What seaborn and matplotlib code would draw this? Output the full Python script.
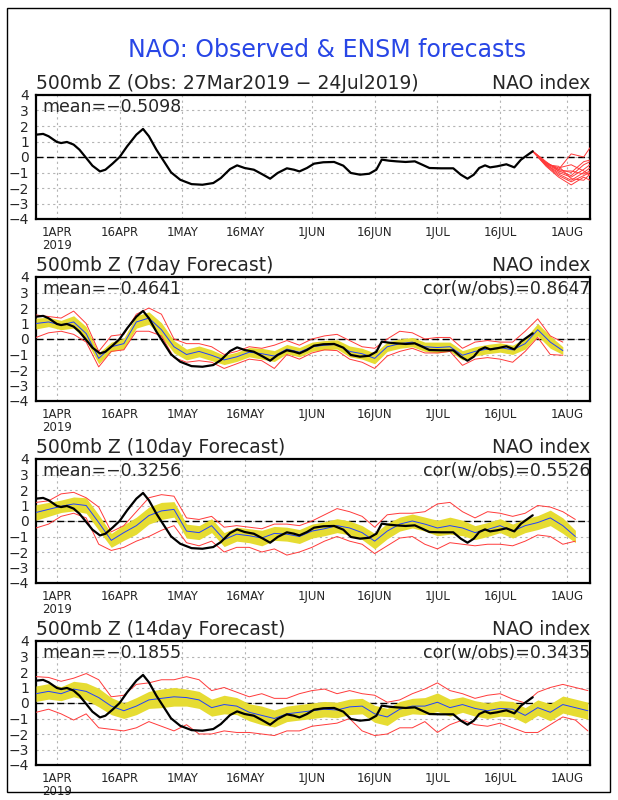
import numpy as np
import pandas as pd
import matplotlib
matplotlib.use("Agg")
import matplotlib.pyplot as plt
import seaborn as sns
from matplotlib.patches import Rectangle

sns.set_style("white")
plt.rcParams['font.family'] = ['DejaVu Sans']
plt.rcParams['axes.unicode_minus'] = True

#==========================================data===========================================#
# days counted from 1 APR 2019
obs_day = [-5, -3.3, -2, 0, 1, 2.4, 4, 5.4, 6.7, 8.5,
           10.3, 11.6, 13.3, 15, 16.8, 19, 20.6, 22, 23.8, 25.6,
           27.3, 29.5, 32.2, 34.8, 37.4, 39.2, 41.4, 43.1, 44.9, 47.1,
           49.3, 51, 52.8, 55, 56.7, 58, 59.8, 61.5, 63.7, 66.3,
           68.5, 70.3, 72.5, 74.7, 76.4, 77.7, 79.5, 81.2, 83.4, 85.6,
           87.4, 89.1, 91.8, 94.8, 96.6, 98.2, 99.7, 101, 102.4, 103.6,
           105.3, 107.5, 109.4, 111, 113.8]
obs_val = [1.44, 1.49, 1.34, 0.97, 0.9, 0.97, 0.8, 0.47, 0.04, -0.56,
           -0.93, -0.82, -0.43, 0, 0.69, 1.44, 1.81, 1.34, 0.47, -0.28,
           -0.99, -1.47, -1.75, -1.79, -1.68, -1.36, -0.78, -0.54, -0.71, -0.82,
           -1.14, -1.4, -1.03, -0.73, -0.82, -0.93, -0.71, -0.43, -0.34, -0.32,
           -0.56, -1.03, -1.14, -1.08, -0.82, -0.17, -0.24, -0.28, -0.32, -0.28,
           -0.5, -0.71, -0.73, -0.73, -1.14, -1.4, -1.14, -0.71, -0.54, -0.67,
           -0.6, -0.47, -0.67, -0.17, 0.37]

# ensemble members issued 24 JUL (top panel)
ens_day = [113.8, 117, 120, 123, 126, 127.5]
ens_members = [
    [0.37, -0.4, -0.8, 0.2, 0.0, 0.6],
    [0.37, -0.3, -0.9, -1.2, -0.5, -0.3],
    [0.37, -0.5, -1.1, -1.5, -1.0, -0.7],
    [0.37, -0.6, -1.3, -1.8, -1.3, -1.5],
    [0.37, -0.4, -0.7, -0.5, -0.9, -1.2],
    [0.37, -0.5, -1.0, -1.3, -0.8, -0.5],
    [0.37, -0.45, -0.9, -0.9, -1.1, -0.9],
    [0.37, -0.55, -1.2, -1.6, -1.2, -1.0],
    [0.37, -0.35, -0.8, -1.0, -0.3, -0.2],
    [0.37, -0.5, -0.6, -1.4, -1.5, -1.1],
]

fc_day = list(range(-5, 128, 3))

fc7_mean = [1.0, 1.1, 0.9, 1.1, 0.35, -1.25, -0.5, -0.3, 1.1, 1.35,
            0.6, -0.5, -1.0, -0.8, -1.05, -1.35, -1.15, -0.85, -0.95, -1.1,
            -0.65, -0.85, -0.5, -0.4, -0.35, -0.8, -0.95, -1.25, -0.5, -0.3,
            -0.2, -0.5, -0.55, -0.5, -1.05, -0.8, -0.65, -0.55, -0.7, -0.3,
            0.6, -0.2, -0.75]
fc7_band = [0.35, 0.3, 0.3, 0.4, 0.45, 0.35, 0.3, 0.35, 0.4, 0.4,
            0.45, 0.4, 0.35, 0.35, 0.35, 0.3, 0.3, 0.3, 0.35, 0.35,
            0.3, 0.3, 0.3, 0.3, 0.3, 0.35, 0.35, 0.35, 0.3, 0.3,
            0.3, 0.3, 0.35, 0.3, 0.3, 0.3, 0.3, 0.3, 0.3, 0.35,
            0.4, 0.4, 0.25]
fc7_hi = [1.55, 1.45, 1.35, 1.8, 1.0, -0.8, 0.2, 0.3, 1.6, 2.0,
          1.6, 0.0, -0.3, -0.3, -0.5, -1.0, -0.8, -0.5, -0.6, -0.4,
          -0.1, -0.4, 0.0, 0.2, 0.3, -0.1, -0.5, -0.6, 0.0, 0.5,
          0.4, 0.0, 0.1, 0.1, -0.6, -0.2, -0.1, -0.2, -0.2, 0.5,
          1.3, 0.2, -0.2]
fc7_lo = [0.1, 0.4, 0.5, 0.3, -0.2, -1.8, -0.8, -0.7, 0.5, 0.5,
          0.2, -1.2, -1.5, -1.4, -1.5, -1.9, -1.6, -1.3, -1.4, -1.9,
          -1.0, -1.3, -0.9, -0.7, -0.75, -1.3, -1.5, -1.9, -1.1, -0.8,
          -0.6, -0.9, -0.9, -0.8, -1.7, -1.3, -1.2, -1.3, -1.5, -0.8,
          0.1, -1.0, -1.05]

fc10_mean = [0.55, 0.75, 0.95, 1.1, 1.0, -0.1, -1.25, -0.75, -0.3, 0.35,
             0.65, 0.75, -0.65, -0.75, -0.3, -1.2, -0.85, -0.95, -1.1, -0.8,
             -0.85, -1.0, -0.65, -0.5, -0.3, -0.45, -0.75, -1.3, -0.65, -0.2,
             0.0, -0.2, -0.45, -0.3, -0.45, -0.75, -0.55, -0.3, -0.65, -0.3,
             -0.1, 0.2, -0.3, -1.0]
fc10_band = [0.5, 0.45, 0.4, 0.45, 0.5, 0.5, 0.45, 0.5, 0.55, 0.55,
             0.55, 0.5, 0.45, 0.45, 0.45, 0.45, 0.45, 0.45, 0.5, 0.45,
             0.45, 0.45, 0.45, 0.45, 0.45, 0.45, 0.45, 0.5, 0.5, 0.45,
             0.45, 0.45, 0.5, 0.55, 0.5, 0.45, 0.45, 0.45, 0.45, 0.45,
             0.45, 0.5, 0.5, 0.4]
fc10_hi = [1.2, 1.3, 1.75, 1.85, 1.5, 0.9, -0.7, -0.3, 0.6, 1.5,
           1.7, 1.6, 0.2, 0.1, 0.3, -0.4, -0.3, -0.4, -0.5, -0.2,
           -0.2, -0.3, 0.0, 0.4, 0.8, 0.6, 0.3, -0.4, 0.4, 0.5,
           0.5, 0.6, 1.1, 1.2, 0.6, 0.2, 0.6, 0.5, 0.3, 0.5,
           1.0, 0.9, 0.6, 0.1]
fc10_lo = [-0.45, -0.2, 0.3, 0.5, 0.2, -1.5, -1.9, -1.7, -1.3, -1.0,
           -0.6, -0.3, -1.4, -1.6, -1.3, -2.0, -1.7, -1.7, -2.0, -1.8,
           -2.2, -2.0, -1.7, -1.3, -1.0, -1.3, -1.5, -2.1, -1.6, -1.1,
           -1.0, -1.5, -1.8, -1.4, -1.5, -1.6, -1.5, -1.5, -1.6, -1.3,
           -0.9, -1.0, -1.5, -1.3]

fc14_mean = [0.6, 0.75, 0.6, 0.9, 0.75, 0.35, -0.2, -0.5, -0.2, 0.2,
             0.3, 0.4, 0.35, 0.2, -0.3, -0.1, -0.2, -0.6, -0.8, -1.0,
             -0.7, -0.6, -0.5, -0.4, -0.45, -0.25, -0.2, -0.7, -0.9, -0.4,
             -0.2, -0.2, 0.05, -0.3, -0.1, -0.35, -0.5, -0.35, -0.4, -0.8,
             -0.3, -0.6, -0.1, -0.3, -0.5]
fc14_band = [0.5, 0.5, 0.45, 0.5, 0.55, 0.6, 0.55, 0.5, 0.55, 0.55,
             0.6, 0.6, 0.55, 0.55, 0.55, 0.6, 0.55, 0.55, 0.6, 0.55,
             0.5, 0.5, 0.5, 0.5, 0.5, 0.5, 0.5, 0.55, 0.55, 0.5,
             0.5, 0.55, 0.6, 0.55, 0.5, 0.5, 0.5, 0.5, 0.5, 0.5,
             0.5, 0.55, 0.55, 0.55, 0.55]
fc14_hi = [1.7, 1.65, 1.4, 1.6, 1.9, 1.5, 0.4, 0.5, 1.2, 1.3,
           1.5, 1.5, 1.7, 1.5, 0.8, 1.0, 0.7, 0.4, 0.6, 0.3,
           0.3, 0.6, 0.8, 0.9, 0.6, 0.8, 0.6, 0.5, 0.05, 0.2,
           0.6, 0.9, 1.3, 0.8, 0.6, 0.3, 0.5, 0.6, 0.25, 0.0,
           0.7, 1.0, 1.2, 1.0, 0.8]
fc14_lo = [-0.6, -0.4, -0.7, -1.1, -0.7, -1.6, -1.7, -1.8, -1.6, -1.2,
           -1.5, -1.8, -1.4, -2.0, -2.0, -1.8, -1.9, -1.9, -2.0, -2.1,
           -1.8, -1.8, -1.5, -1.4, -1.3, -1.0, -1.8, -2.1, -2.0, -1.6,
           -1.6, -1.2, -1.9, -1.4, -1.1, -1.4, -1.5, -1.3, -1.6, -1.9,
           -1.9, -1.4, -0.9, -1.1, -1.8]

panel_titles = ['500mb Z (Obs: 27Mar2019 \u2212 24Jul2019)',
                '500mb Z (7day Forecast)',
                '500mb Z (10day Forecast)',
                '500mb Z (14day Forecast)']
mean_text = ['mean=\u22120.5098', 'mean=\u22120.4641', 'mean=\u22120.3256', 'mean=\u22120.1855']
cor_text = [None, 'cor(w/obs)=0.8647', 'cor(w/obs)=0.5526', 'cor(w/obs)=0.3435']

tick_dates = ['2019-04-01', '2019-04-16', '2019-05-01', '2019-05-16', '2019-06-01',
              '2019-06-16', '2019-07-01', '2019-07-16', '2019-08-01']
tick_labels = ['1APR\n2019', '16APR', '1MAY', '16MAY', '1JUN', '16JUN', '1JUL', '16JUL', '1AUG']

base = pd.Timestamp('2019-04-01')


def to_dates(days):
    return base + pd.to_timedelta(np.asarray(days, dtype=float), unit='D')


yellow = '#e6dc32'
red = '#ff3a3a'
blue = '#2040ff'

#==========================================plot===========================================#
W, H = 618, 800
fig = plt.figure(figsize=(W / 100, H / 100), dpi=100)
fig.add_artist(Rectangle((7 / W, 8 / H), 603 / W, 784 / H, transform=fig.transFigure,
                         fill=False, lw=1, ec='black'))
fig.text(0.529, 1 - 50 / H, 'NAO: Observed & ENSM forecasts', color='#2846e6',
         fontsize=17, ha='center', va='center')

tops = [95, 277, 459, 641]
axh = 124
axes = []
for t in tops:
    ax = fig.add_axes([36 / W, 1 - (t + axh) / H, 554 / W, axh / H])
    axes.append(ax)

obs_x = to_dates(obs_day)
forecasts = [None,
             (fc7_mean, fc7_band, fc7_hi, fc7_lo),
             (fc10_mean, fc10_band, fc10_hi, fc10_lo),
             (fc14_mean, fc14_band, fc14_hi, fc14_lo)]

for i, ax in enumerate(axes):
    ax.grid(True, color='#b4b4b4', linestyle=(0, (2, 3)), linewidth=0.8)
    ax.axhline(0, color='black', ls=(0, (5, 2.5)), lw=1, zorder=2)

    if forecasts[i] is None:
        ens = pd.DataFrame({
            'day': np.tile(ens_day, len(ens_members)),
            'val': np.concatenate(ens_members),
            'member': np.repeat(np.arange(len(ens_members)), len(ens_day)),
        })
        ens['date'] = to_dates(ens['day'])
        sns.lineplot(data=ens, x='date', y='val', units='member', estimator=None,
                     ax=ax, color=red, lw=0.7, zorder=3)
    else:
        fm, fb, fh, fl = forecasts[i]
        n = len(fm)
        x = to_dates(fc_day[:n])
        fm = np.array(fm)
        fb = np.array(fb)
        ax.fill_between(x, fm - fb, fm + fb, color=yellow, lw=0, zorder=3)
        sns.lineplot(x=x, y=fh, ax=ax, color=red, lw=0.7, zorder=4)
        sns.lineplot(x=x, y=fl, ax=ax, color=red, lw=0.7, zorder=4)
        sns.lineplot(x=x, y=fm, ax=ax, color=blue, lw=0.7, zorder=5)

    sns.lineplot(x=obs_x, y=obs_val, ax=ax, color='black', lw=1.6, zorder=6)

    ax.set_xlim(to_dates([-5])[0], to_dates([127.5])[0])
    ax.set_ylim(-4, 4)
    ax.set_yticks(range(-4, 5))
    ax.set_xticks(pd.to_datetime(tick_dates))
    ax.set_xticklabels(tick_labels, fontsize=8.5, linespacing=1.0)
    ax.tick_params(axis='y', labelsize=10, length=4, width=1, direction='out', pad=1)
    ax.tick_params(axis='x', length=4, width=1, direction='out', pad=1)
    ax.set_xlabel('')
    ax.set_ylabel('')
    for sp in ax.spines.values():
        sp.set_linewidth(1.6)
        sp.set_color('black')

    ax.text(0, 1.02, panel_titles[i], transform=ax.transAxes, ha='left', va='bottom', fontsize=13.5)
    ax.text(1, 1.02, 'NAO index', transform=ax.transAxes, ha='right', va='bottom', fontsize=13.5)
    ax.text(0.012, 0.975, mean_text[i], transform=ax.transAxes, ha='left', va='top', fontsize=12.5, zorder=7)
    if cor_text[i]:
        ax.text(1.0, 0.975, cor_text[i], transform=ax.transAxes, ha='right', va='top', fontsize=12.5, zorder=7)

fig.savefig('out.png', dpi=100)
